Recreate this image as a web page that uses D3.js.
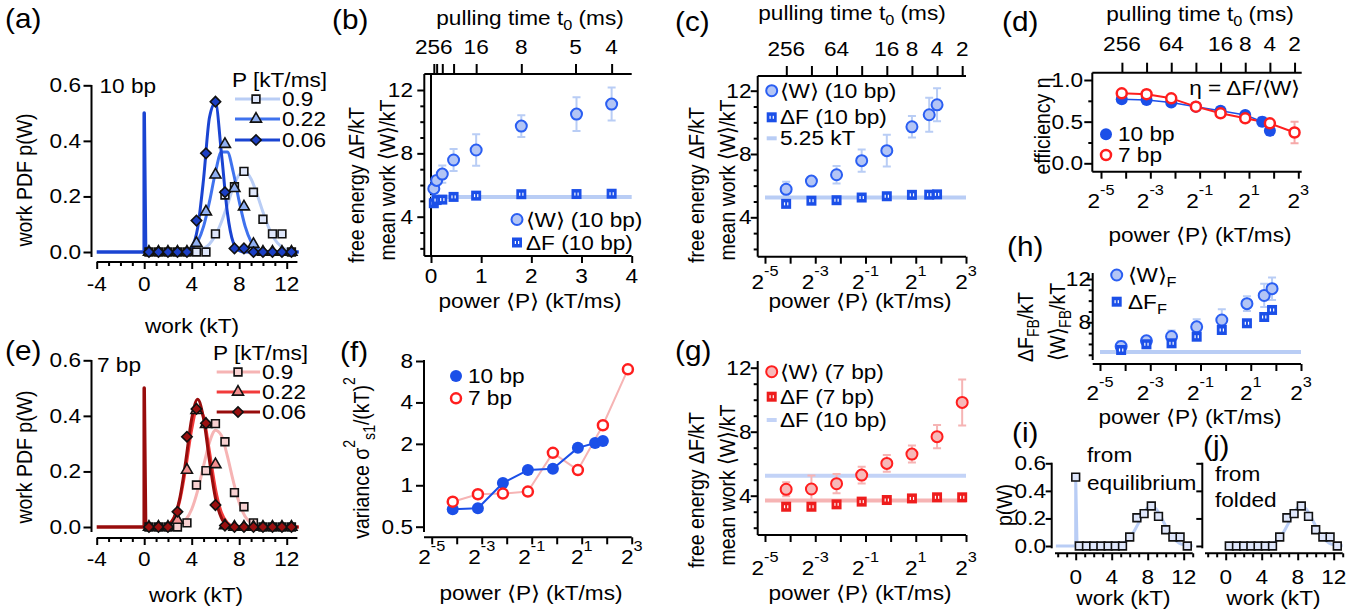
<!DOCTYPE html>
<html>
<head>
<meta charset="utf-8">
<script src="https://cdn.jsdelivr.net/npm/d3@7/dist/d3.min.js"></script>
<style>
body{margin:0;background:#fff;}
</style>
</head>
<body>
<script>
// ---------- data ----------

// (a),(e),(i),(j): work histograms, bin centres in kT
var binX = [0.4,1.2,2.0,2.8,3.6,4.4,5.2,6.0,6.8,7.6,8.4,9.2,10.0,10.8,11.6,12.4];
var pdf10_p09  = [0,0,0,0,0,0,0,0.065,0.205,0.235,0.29,0.215,0.118,0.065,0.065,0];
var pdf10_p022 = [0,0,0,0,0,0.032,0.145,0.278,0.388,0.229,0.163,0.028,0,0,0,0];
var pdf10_p006 = [0,0,0,0,0,0.113,0.355,0.541,0.215,0.013,0.013,0,0,0,0,0];
var pdf7_p09   = [0,0,0,0,0.015,0.151,0.203,0.372,0.307,0.124,0.073,0.015,0,0,0,0];
var pdf7_p022  = [0,0,0,0.025,0.205,0.42,0.37,0.225,0.005,0,0,0,0,0,0,0];
var pdf7_p006  = [0,0,0,0.055,0.325,0.425,0.373,0.079,0.005,0,0,0,0,0,0,0];

// fitted curves sampled every 0.5 kT
var fitX = [0,0.5,1,1.5,2,2.5,3,3.5,4,4.5,5,5.5,6,6.5,7,7.5,8,8.5,9,9.5,10,10.5,11,11.5,12,12.5,13];
var fit10_p09  = [0,0,0,0,0,0,0,0,0.0014,0.0045,0.012,0.029,0.06,0.108,0.169,0.232,0.278,0.289,0.263,0.208,0.144,0.086,0.045,0.021,0.008,0.003,0.001];
var fit10_p022 = [0,0,0,0,0,0,0.0006,0.003,0.012,0.037,0.092,0.182,0.287,0.36,0.36,0.287,0.182,0.092,0.037,0.012,0.003,0.0006,0,0,0,0,0];
var fit10_p006 = [0,0,0,0,0,0,0,0.002,0.017,0.086,0.263,0.485,0.537,0.357,0.143,0.034,0.005,0,0,0,0,0,0,0,0,0,0];
var fit7_p09   = [0,0,0,0,0,0.002,0.009,0.026,0.064,0.131,0.22,0.305,0.348,0.329,0.256,0.165,0.087,0.038,0.014,0.004,0.001,0,0,0,0,0,0];
var fit7_p022  = [0,0,0,0.0015,0.008,0.032,0.096,0.213,0.352,0.432,0.396,0.27,0.137,0.052,0.015,0.003,0,0,0,0,0,0,0,0,0,0,0];
var fit7_p006  = [0,0,0,0.001,0.007,0.033,0.104,0.238,0.39,0.46,0.39,0.238,0.104,0.033,0.007,0.001,0,0,0,0,0,0,0,0,0,0,0];

// delta peak at W=0 (equilibrium start)
var deltaX = [-4,0,0,0.12];
var deltaY = [0,0,0.5,0];
var eqDeltaX = [-2.2,0,0,0.15];
var eqPointX = [0];
var eqPointY = [0.5];

// (b),(c),(h): 10 bp
var P10 = [0.056,0.1125,0.225,0.45,0.9,1.8,2.9,3.6];
var W10 = [5.77,6.29,6.69,7.58,8.21,9.72,10.48,11.11];
var W10err = [0.47,0.15,0.55,0.7,1.0,0.68,1.07,1.04];
var F10 = [4.85,5.05,5.08,5.25,5.33,5.42,5.43,5.45];
var F10line = 5.25;

// (g): 7 bp
var P7 = [0.056,0.1125,0.225,0.45,0.9,1.8,3.6,7.2];
var W7 = [4.40,4.42,4.75,5.29,6.02,6.60,7.69,9.83];
var W7err = [0.44,0.84,0.6,0.52,0.52,0.53,0.73,1.44];
var F7 = [3.31,3.31,3.46,3.63,3.73,3.83,3.9,3.9];
var F7line = 3.7;

// (d): efficiency
var eta10 = [0.77,0.76,0.73,0.68,0.63,0.58,0.50,0.39];
var eta10err = [0.02,0.02,0.03,0.02,0.04,0.03,0.05,0.05];
var eta7 = [0.84,0.83,0.78,0.68,0.60,0.54,0.48,0.37];
var eta7err = [0.02,0.05,0.02,0.02,0.02,0.02,0.03,0.13];

// (f): variance
var var10 = [0.67,0.68,1.04,1.29,1.32,1.87,2.03,2.10];
var var7 = [0.76,0.86,0.87,0.90,1.72,1.29,2.73,6.96];

// (h): forward free energy
var FF10 = [5.44,5.97,6.06,6.67,7.29,7.91,8.49,9.14];

// pulling time axis (P = kTms / t0)
var kTms = 14.4;
var t0B = [256,128,64,32,16,8,5,4];
var t0BLabels = ['256','','','','16','8','5','4'];
var t0C = [256,128,64,32,16,8,4,2];
var t0CLabels = ['256','','64','','16','8','4','2'];

var log2Major = [1/32,1/8,1/2,2,8];
var log2MajorLabels = ['-5','-3','-1','1','3'];
var log2Minor = [1/16,1/4,1,4];

// ---------- style ----------
var FF = '"Liberation Sans", Arial, Helvetica, sans-serif';
var FS = 19.5, ST = 1.16;
var blueLight = '#b9cdf5', blueMid = '#3f72ee', blueDark = '#1a44d2';
var blue = '#1b4fe8', circFill = '#b3c5f5', circStroke = '#2a5ef2';
var red = '#ff1e1e', pink = '#f6b4b4', redMid = '#f23b3b', redDark = '#980c0c';

var svg = d3.select('body').append('svg').attr('width',1362).attr('height',610);

function label(x, y, segs, o) {
  o = o || {};
  var size = o.size || FS, st = o.st || ST;
  var tr = 'translate(' + x + ',' + y + ')' + (o.rot ? ' rotate(-90) scale(1,' + st + ')' : ' scale(' + st + ',1)');
  var t = svg.append('text').attr('transform', tr)
    .attr('font-family', FF).attr('font-size', size)
    .attr('text-anchor', o.anchor || 'start').attr('fill', o.fill || '#000');
  if (!Array.isArray(segs)) segs = [segs];
  var cur = 0;
  segs.forEach(function (s) {
    var str = Array.isArray(s) ? s[0] : s, kind = Array.isArray(s) ? s[1] : '';
    var off = kind === 'sup' ? -(o.raise || 0.62) * size : kind === 'sub' ? 0.28 * size : 0;
    var ts = t.append('tspan').text(str);
    if (off - cur !== 0) ts.attr('dy', off - cur);
    if (kind) ts.attr('font-size', size * 0.72);
    cur = off;
  });
  return t;
}

function hline(x1, x2, y, c, w) {
  svg.append('line').attr('x1', x1).attr('x2', x2).attr('y1', y).attr('y2', y)
    .attr('stroke', c || '#000').attr('stroke-width', w || 2);
}
function vline(x, y1, y2, c, w) {
  svg.append('line').attr('x1', x).attr('x2', x).attr('y1', y1).attr('y2', y2)
    .attr('stroke', c || '#000').attr('stroke-width', w || 2);
}

function ticks(gen, tx, ty, vals, size) {
  var a = svg.append('g').attr('transform', 'translate(' + tx + ',' + ty + ')')
    .call(gen.tickValues(vals).tickSize(size).tickSizeOuter(0).tickFormat(''));
  a.select('.domain').remove();
  a.selectAll('.tick line').attr('stroke', '#000').attr('stroke-width', 2);
  return a;
}

function curve(x, y, xs, ys, color, w, interp) {
  svg.append('path').datum(ys)
    .attr('d', d3.line().x(function (d, i) { return x(xs[i]); }).y(function (d) { return y(d); })
      .curve(interp || d3.curveLinear))
    .attr('fill', 'none').attr('stroke', color).attr('stroke-width', w)
    .attr('stroke-linejoin', 'round');
}

var symSq = d3.symbol().type(d3.symbolSquare).size(60);
var symTri = d3.symbol().type(d3.symbolTriangle).size(52);
var symDia = d3.symbol().type(d3.symbolSquare).size(54);

function markers(x, y, xs, ys, kind, fill) {
  var sym = kind === 'sq' ? symSq : kind === 'tri' ? symTri : symDia;
  svg.append('g').selectAll('path').data(ys).join('path')
    .attr('d', sym)
    .attr('transform', function (d, i) {
      return 'translate(' + x(xs[i]) + ',' + y(d) + ')' + (kind === 'dia' ? ' rotate(45)' : '');
    })
    .attr('fill', fill).attr('stroke', '#111').attr('stroke-width', 1.6);
}

function errbars(x, y, P, V, E, color, w) {
  var rows = P.map(function (p, i) { return { p: p, v: V[i], e: E[i] }; });
  svg.append('g').attr('stroke', color).attr('stroke-width', w || 2).attr('fill', 'none')
    .selectAll('path').data(rows).join('path')
    .attr('d', function (d) {
      var px = x(d.p), y1 = y(d.v + d.e), y2 = y(d.v - d.e);
      return 'M' + (px - 4) + ',' + y1 + 'H' + (px + 4) + 'M' + px + ',' + y1 + 'V' + y2 +
        'M' + (px - 4) + ',' + y2 + 'H' + (px + 4);
    });
}

function dots(x, y, P, V, r, fill, stroke, sw) {
  svg.append('g').selectAll('circle').data(V).join('circle')
    .attr('cx', function (d, i) { return x(P[i]); })
    .attr('cy', function (d) { return y(d); })
    .attr('r', r).attr('fill', fill)
    .attr('stroke', stroke || 'none').attr('stroke-width', sw || 0);
}

function boxes(x, y, P, V, s, color) {
  var g = svg.append('g');
  var cells = g.selectAll('g').data(V).join('g')
    .attr('transform', function (d, i) { return 'translate(' + x(P[i]) + ',' + y(d) + ')'; });
  cells.append('rect').attr('x', -s / 2).attr('y', -s / 2).attr('width', s).attr('height', s)
    .attr('fill', color);
  cells.append('rect').attr('x', -2.2).attr('y', -1.5).attr('width', 1.2).attr('height', 3).attr('fill', '#fff');
  cells.append('rect').attr('x', 1).attr('y', -1.5).attr('width', 1.2).attr('height', 3).attr('fill', '#fff');
}

function logXLabels(x, base) {
  log2Major.forEach(function (v, i) {
    label(x(v), base, ['2', [log2MajorLabels[i], 'sup']], { anchor: 'middle', raise: 0.66 });
  });
}

function yLabels(y, vals, texts, right) {
  vals.forEach(function (v, i) {
    label(right, y(v) + 7, texts[i], { anchor: 'end' });
  });
}

function t0Axis(x, t0, labs, ty, labY) {
  var P = t0.map(function (t) { return kTms / t; });
  ticks(d3.axisTop(x), 0, ty, P, 10);
  P.forEach(function (p, i) {
    if (labs[i]) label(x(p), labY, labs[i], { anchor: 'middle' });
  });
}

function dashKey(x, y, color) {
  hline(x - 5, x + 5, y, color, 4);
}

// =============== (a) =================
(function () {
  var x = d3.scaleLinear().domain([-4, 12.9]).range([96.7, 297.4]);
  var y = d3.scaleLinear().domain([0, 0.6]).range([252, 85.3]);
  hline(x(-4), x(12.9), 262);
  ticks(d3.axisBottom(x), 0, 262, [-4, 0, 4, 8, 12], 7);
  ticks(d3.axisBottom(x), 0, 262, [-3, -2, -1, 1, 2, 3, 5, 6, 7, 9, 10, 11], 4);
  [-4, 0, 4, 8, 12].forEach(function (v) { label(x(v), 291, String(v), { anchor: 'middle' }); });
  vline(91.5, 85, 257);
  ticks(d3.axisLeft(y), 91.5, 0, [0, 0.2, 0.4, 0.6], 8);
  yLabels(y, [0, 0.2, 0.4, 0.6], ['0.0', '0.2', '0.4', '0.6'], 81);
  label(31.5, 180, 'work PDF p(W)', { rot: true, anchor: 'middle' });
  label(192, 333, 'work (kT)', { anchor: 'middle' });
  label(99.5, 93, '10 bp');
  label(5, 28, '(a)', { size: 27, st: 1.1 });

  curve(x, y, fitX, fit10_p09, blueLight, 3, d3.curveMonotoneX);
  curve(x, y, fitX, fit10_p022, blueMid, 3, d3.curveMonotoneX);
  curve(x, y, fitX, fit10_p006, blueDark, 3, d3.curveMonotoneX);
  curve(x, y, deltaX, deltaY, blueDark, 3.5);
  markers(x, y, binX, pdf10_p09, 'sq', '#dfe7fb');
  markers(x, y, binX, pdf10_p022, 'tri', '#90b0f2');
  markers(x, y, binX, pdf10_p006, 'dia', '#1b3fc4');

  // legend
  label(232, 87, 'P [kT/ms]');
  var rows = [['0.9', blueLight, 'sq', '#dfe7fb'], ['0.22', blueMid, 'tri', '#90b0f2'], ['0.06', blueDark, 'dia', '#1b3fc4']];
  var ry = [99, 119, 140];
  rows.forEach(function (r, i) {
    hline(235, 280, ry[i], r[1], 3);
    var lx = d3.scaleLinear().domain([0, 1]).range([256, 257]);
    var ly = d3.scaleLinear().domain([0, 1]).range([ry[i], ry[i] + 1]);
    markers(lx, ly, [0], [0], r[2], r[3]);
    label(282, ry[i] + 7, r[0]);
  });
})();

// =============== (e) =================
(function () {
  var x = d3.scaleLinear().domain([-4, 12.9]).range([96.7, 297.4]);
  var y = d3.scaleLinear().domain([0, 0.6]).range([527, 360.3]);
  hline(x(-4), x(12.9), 538);
  ticks(d3.axisBottom(x), 0, 538, [-4, 0, 4, 8, 12], 7);
  ticks(d3.axisBottom(x), 0, 538, [-3, -2, -1, 1, 2, 3, 5, 6, 7, 9, 10, 11], 4);
  [-4, 0, 4, 8, 12].forEach(function (v) { label(x(v), 566, String(v), { anchor: 'middle' }); });
  vline(91.5, 360, 532);
  ticks(d3.axisLeft(y), 91.5, 0, [0, 0.2, 0.4, 0.6], 8);
  yLabels(y, [0, 0.2, 0.4, 0.6], ['0.0', '0.2', '0.4', '0.6'], 81);
  label(31.5, 457, 'work PDF p(W)', { rot: true, anchor: 'middle' });
  label(196, 602, 'work (kT)', { anchor: 'middle' });
  label(97, 372, '7 bp');
  label(5, 360, '(e)', { size: 27, st: 1.1 });

  curve(x, y, fitX, fit7_p09, pink, 3, d3.curveMonotoneX);
  curve(x, y, fitX, fit7_p022, redMid, 3, d3.curveMonotoneX);
  curve(x, y, fitX, fit7_p006, redDark, 3, d3.curveMonotoneX);
  curve(x, y, deltaX, deltaY, redDark, 3.5);
  markers(x, y, binX, pdf7_p09, 'sq', '#f8d2d2');
  markers(x, y, binX, pdf7_p022, 'tri', '#f59090');
  markers(x, y, binX, pdf7_p006, 'dia', '#9a1010');

  label(213, 360, 'P [kT/ms]');
  var rows = [['0.9', pink, 'sq', '#f8d2d2'], ['0.22', redMid, 'tri', '#f59090'], ['0.06', redDark, 'dia', '#9a1010']];
  var ry = [372, 392, 412];
  rows.forEach(function (r, i) {
    hline(216.7, 260, ry[i], r[1], 3);
    var lx = d3.scaleLinear().domain([0, 1]).range([238, 239]);
    var ly = d3.scaleLinear().domain([0, 1]).range([ry[i], ry[i] + 1]);
    markers(lx, ly, [0], [0], r[2], r[3]);
    label(262, ry[i] + 7, r[0]);
  });
})();

// =============== (b) =================
(function () {
  var x = d3.scaleLinear().domain([0, 4]).range([431, 631.7]);
  var y = d3.scaleLinear().domain([4, 12]).range([216.7, 90]);
  vline(424.3, 74, 256);
  hline(424.3, 631.7, 74);
  hline(424.3, 631.7, 256);
  vline(x(0), 74, 256);
  ticks(d3.axisLeft(y), 424.3, 0, [4, 8, 12], 7);
  ticks(d3.axisLeft(y), 424.3, 0, [2, 3, 5, 6, 7, 9, 10, 11], 4);
  yLabels(y, [4, 8, 12], ['4', '8', '12'], 413);
  ticks(d3.axisBottom(x), 0, 256, [0, 1, 2, 3, 4], 7);
  [0, 1, 2, 3, 4].forEach(function (v) { label(x(v), 283, String(v), { anchor: 'middle' }); });
  t0Axis(x, t0B, t0BLabels, 74, 54);
  label(530, 25, ['pulling time t', ['0', 'sub'], ' (ms)'], { anchor: 'middle' });
  label(530, 308, 'power \u27E8P\u27E9 (kT/ms)', { anchor: 'middle' });
  label(364, 185, 'free energy \u0394F/kT', { rot: true, anchor: 'middle' });
  label(395, 180, 'mean work \u27E8W\u27E9/kT', { rot: true, anchor: 'middle' });
  label(332, 29, '(b)', { size: 27, st: 1.1 });

  hline(x(0), x(4), y(F10line), blueLight, 4);
  errbars(x, y, P10, W10, W10err, blueLight);
  dots(x, y, P10, W10, 5.5, circFill, circStroke, 2);
  boxes(x, y, P10, F10, 10, blue);

  var lx = d3.scaleLinear().domain([0, 1]).range([517, 518]);
  dots(lx, function (d) { return d; }, [0], [219.5], 5.5, circFill, circStroke, 2);
  boxes(lx, function (d) { return d; }, [0], [242.5], 10, blue);
  label(526, 226.5, '\u27E8W\u27E9 (10 bp)');
  label(526, 249.5, '\u0394F (10 bp)');
})();

// =============== (c) =================
(function () {
  var x = d3.scaleLog().base(2).domain([1 / 32, 8]).range([765, 966]);
  var y = d3.scaleLinear().domain([4, 12]).range([217.3, 90.7]);
  vline(757.7, 76, 256.7);
  hline(757.7, 966, 76);
  hline(757.7, 966, 256.7);
  ticks(d3.axisLeft(y), 757.7, 0, [4, 8, 12], 7);
  ticks(d3.axisLeft(y), 757.7, 0, [2, 3, 5, 6, 7, 9, 10, 11], 4);
  yLabels(y, [4, 8, 12], ['4', '8', '12'], 751.5);
  ticks(d3.axisBottom(x), 0, 256.7, log2Major, 7);
  ticks(d3.axisBottom(x), 0, 256.7, log2Minor, 7);
  logXLabels(x, 289);
  t0Axis(x, t0C, t0CLabels, 76, 55.5);
  label(852, 20, ['pulling time t', ['0', 'sub'], ' (ms)'], { anchor: 'middle' });
  label(860, 308, 'power \u27E8P\u27E9 (kT/ms)', { anchor: 'middle' });
  label(703.5, 185, 'free energy \u0394F/kT', { rot: true, anchor: 'middle' });
  label(735, 180, 'mean work \u27E8W\u27E9/kT', { rot: true, anchor: 'middle' });
  label(675, 31, '(c)', { size: 27, st: 1.1 });

  hline(x(1 / 32), x(8), y(F10line), blueLight, 4);
  errbars(x, y, P10, W10, W10err, blueLight);
  dots(x, y, P10, W10, 5.5, circFill, circStroke, 2);
  boxes(x, y, P10, F10, 10, blue);

  var lx = d3.scaleLinear().domain([0, 1]).range([771.7, 772.7]);
  var id = function (d) { return d; };
  dots(lx, id, [0], [90.7], 5.5, circFill, circStroke, 2);
  boxes(lx, id, [0], [117.3], 10, blue);
  dashKey(771.7, 138.3, blueLight);
  label(780, 97.7, '\u27E8W\u27E9 (10 bp)');
  label(780, 124.3, '\u0394F (10 bp)');
  label(780, 145.3, '5.25 kT');
})();

// =============== (d) =================
(function () {
  var x = d3.scaleLog().base(2).domain([1 / 32, 8]).range([1101, 1298.3]);
  var y = d3.scaleLinear().domain([0, 1]).range([163.3, 80]);
  vline(1092.3, 72.7, 171.7);
  hline(1092.3, 1301.7, 72.7);
  hline(1092.3, 1301.7, 171.7);
  ticks(d3.axisLeft(y), 1092.3, 0, [0, 0.5, 1], 8);
  ticks(d3.axisLeft(y), 1092.3, 0, [0.25, 0.75], 4);
  yLabels(y, [0, 0.5, 1], ['0.0', '0.5', '1.0'], 1083);
  ticks(d3.axisBottom(x), 0, 171.7, log2Major, 7);
  ticks(d3.axisBottom(x), 0, 171.7, log2Minor, 7);
  logXLabels(x, 208);
  t0Axis(x, t0C, t0CLabels, 72.7, 51);
  label(1200, 21, ['pulling time t', ['0', 'sub'], ' (ms)'], { anchor: 'middle' });
  label(1200, 242, 'power \u27E8P\u27E9 (kT/ms)', { anchor: 'middle' });
  label(1050, 126, 'efficiency \u03B7', { rot: true, anchor: 'middle' });
  label(1300, 95, '\u03B7 = \u0394F/\u27E8W\u27E9', { anchor: 'end' });
  label(1002, 31, '(d)', { size: 27, st: 1.1 });

  errbars(x, y, P7, eta7, eta7err, '#f6a9a9');
  errbars(x, y, P10, eta10, eta10err, blue, 1.5);
  curve(x, y, P10, eta10, blue, 1.5);
  curve(x, y, P7, eta7, red, 2);
  dots(x, y, P10, eta10, 6, blue);
  dots(x, y, P7, eta7, 5, '#fff', red, 2.5);

  var lx = d3.scaleLinear().domain([0, 1]).range([1106, 1107]);
  var id = function (d) { return d; };
  dots(lx, id, [0], [134.3], 6, blue);
  dots(lx, id, [0], [155], 5, '#fff', red, 2.5);
  label(1118, 141.3, '10 bp');
  label(1118, 162, '7 bp');
})();

// =============== (f) =================
(function () {
  var x = d3.scaleLog().base(2).domain([1 / 32, 8]).range([431.7, 631.7]);
  var y = d3.scaleLog().base(2).domain([0.5, 8]).range([526.7, 361]);
  vline(424, 360, 532);
  hline(424, 631.7, 537.3);
  ticks(d3.axisLeft(y), 424, 0, [0.5, 1, 2, 4, 8], 8);
  yLabels(y, [0.5, 1, 2, 4, 8], ['0.5', '1', '2', '4', '8'], 413);
  ticks(d3.axisBottom(x), 0, 537.3, log2Major, 7);
  ticks(d3.axisBottom(x), 0, 537.3, log2Minor, 7);
  logXLabels(x, 564);
  label(531, 600, 'power \u27E8P\u27E9 (kT/ms)', { anchor: 'middle' });
  label(369, 458, ['variance \u03C3', ['2', 'sup'], ['s1', 'sub'], '/(kT)', ['2', 'sup']], { rot: true, anchor: 'middle' });
  label(340, 361, '(f)', { size: 27, st: 1.1 });

  curve(x, y, P7, var7, pink, 2);
  curve(x, y, P10, var10, blue, 2);
  dots(x, y, P10, var10, 6, blue);
  dots(x, y, P7, var7, 5, '#fff', red, 2.5);

  var lx = d3.scaleLinear().domain([0, 1]).range([456, 457]);
  var id = function (d) { return d; };
  dots(lx, id, [0], [376], 6, blue);
  dots(lx, id, [0], [398.3], 5, '#fff', red, 2.5);
  label(468, 383, '10 bp');
  label(468, 405.3, '7 bp');
})();

// =============== (g) =================
(function () {
  var x = d3.scaleLog().base(2).domain([1 / 32, 8]).range([765, 966]);
  var y = d3.scaleLinear().domain([4, 12]).range([495.7, 367.7]);
  vline(757.7, 361, 535);
  hline(757.7, 966, 535);
  ticks(d3.axisLeft(y), 757.7, 0, [4, 8, 12], 7);
  ticks(d3.axisLeft(y), 757.7, 0, [2, 3, 5, 6, 7, 9, 10, 11], 4);
  yLabels(y, [4, 8, 12], ['4', '8', '12'], 751.5);
  ticks(d3.axisBottom(x), 0, 535, log2Major, 7);
  ticks(d3.axisBottom(x), 0, 535, log2Minor, 7);
  logXLabels(x, 575);
  label(860, 600, 'power \u27E8P\u27E9 (kT/ms)', { anchor: 'middle' });
  label(703.5, 490, 'free energy \u0394F/kT', { rot: true, anchor: 'middle' });
  label(735, 485, 'mean work \u27E8W\u27E9/kT', { rot: true, anchor: 'middle' });
  label(675, 360, '(g)', { size: 27, st: 1.1 });

  hline(x(1 / 32), x(8), y(F10line), '#c3d3f7', 4);
  hline(x(1 / 32), x(8), y(F7line), pink, 4);
  errbars(x, y, P7, W7, W7err, pink);
  dots(x, y, P7, W7, 5.5, '#f7b9b9', red, 2);
  boxes(x, y, P7, F7, 10, '#ee1c1c');

  var lx = d3.scaleLinear().domain([0, 1]).range([771.7, 772.7]);
  var id = function (d) { return d; };
  dots(lx, id, [0], [371.7], 5.5, '#f7b9b9', red, 2);
  boxes(lx, id, [0], [396.7], 10, '#ee1c1c');
  dashKey(771.7, 420, '#c3d3f7');
  label(780, 378.7, '\u27E8W\u27E9 (7 bp)');
  label(780, 403.7, '\u0394F (7 bp)');
  label(780, 427, '\u0394F (10 bp)');
})();

// =============== (h) =================
(function () {
  var x = d3.scaleLog().base(2).domain([1 / 32, 8]).range([1100, 1301]);
  var y = d3.scaleLinear().domain([4, 12]).range([365.6, 279]);
  vline(1092.7, 273, 360);
  hline(1092.7, 1301, 364);
  ticks(d3.axisLeft(y), 1092.7, 0, [8, 12], 6);
  ticks(d3.axisLeft(y), 1092.7, 0, [5, 6, 7, 9, 10, 11], 4);
  yLabels(y, [8, 12], ['8', '12'], 1091);
  ticks(d3.axisBottom(x), 0, 364, log2Major, 7);
  ticks(d3.axisBottom(x), 0, 364, log2Minor, 7);
  logXLabels(x, 400);
  label(1190, 424, 'power \u27E8P\u27E9 (kT/ms)', { anchor: 'middle' });
  label(1033, 327, ['\u0394F', ['FB', 'sub'], '/kT'], { rot: true, anchor: 'middle' });
  label(1065, 322, ['\u27E8W\u27E9', ['FB', 'sub'], '/kT'], { rot: true, anchor: 'middle' });
  label(1007, 256, '(h)', { size: 27, st: 1.1 });

  hline(x(1 / 32), x(8), y(F10line), blueLight, 4);
  errbars(x, y, P10, W10, W10err, blueLight);
  dots(x, y, P10, W10, 5.5, circFill, circStroke, 2);
  boxes(x, y, P10, FF10, 10, blue);

  var lx = d3.scaleLinear().domain([0, 1]).range([1116.7, 1117.7]);
  var id = function (d) { return d; };
  dots(lx, id, [0], [275], 5.5, circFill, circStroke, 2);
  boxes(lx, id, [0], [301.7], 10, blue);
  label(1128, 282, ['\u27E8W\u27E9', ['F', 'sub']]);
  label(1128, 308.7, ['\u0394F', ['F', 'sub']]);
})();

// =============== (i) and (j) =================
function smallPdf(x0, axisX, withEq) {
  var x = d3.scaleLinear().domain([-2.3, 13]).range([x0 - 2.3 * 9, x0 + 13 * 9]);
  var y = d3.scaleLinear().domain([0, 0.6]).range([546, 463.3]);
  vline(axisX, 462.7, 548.3);
  hline(x(-2.3), x(13), 553.3);
  ticks(d3.axisBottom(x), 0, 553.3, [0, 4, 8, 12], 7);
  ticks(d3.axisBottom(x), 0, 553.3, [-2, -1, 1, 2, 3, 5, 6, 7, 9, 10, 11, 13], 4);
  ticks(d3.axisLeft(y), axisX, 0, [0, 0.2, 0.4, 0.6], 6);
  [0, 4, 8, 12].forEach(function (v) { label(x(v), 584, String(v), { anchor: 'middle' }); });
  label(x(5.3), 605, 'work (kT)', { anchor: 'middle' });
  if (withEq) curve(x, y, eqDeltaX, deltaY, blueLight, 3);
  curve(x, y, fitX, fit10_p09, blueLight, 3, d3.curveMonotoneX);
  markers(x, y, binX, pdf10_p09, 'sq', '#dfe7fb');
  if (withEq) markers(x, y, eqPointX, eqPointY, 'sq', '#dfe7fb');
  return y;
}
(function () {
  var y = smallPdf(1075.7, 1051.7, true);
  yLabels(y, [0, 0.2, 0.4, 0.6], ['0.0', '0.2', '0.4', '0.6'], 1046);
  label(1012, 505, 'p(W)', { rot: true, anchor: 'middle' });
  label(1087, 462, 'from');
  label(1087, 490, 'equilibrium');
  label(1012, 442, '(i)', { size: 27, st: 1.1 });
})();
(function () {
  smallPdf(1225.7, 1202.3, false);
  label(1215, 481, 'from');
  label(1215, 507, 'folded');
  label(1203, 455, '(j)', { size: 27, st: 1.1 });
})();
</script>
</body>
</html>
